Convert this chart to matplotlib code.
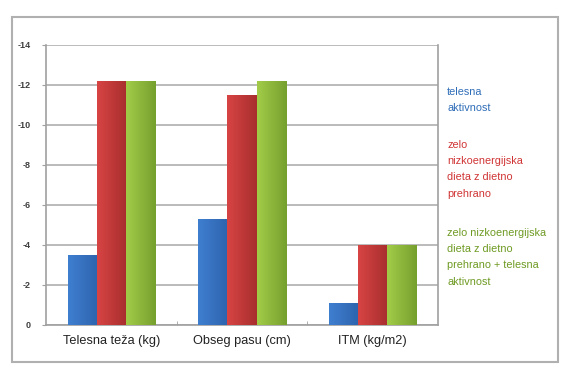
import matplotlib
matplotlib.use("Agg")
import matplotlib.pyplot as plt
import numpy as np
from matplotlib.colors import LinearSegmentedColormap
from matplotlib.patches import Rectangle

categories = ["Telesna teža (kg)", "Obseg pasu (cm)", "ITM (kg/m2)"]
series_names = ["telesna\naktivnost",
                "zelo\nnizkoenergijska\ndieta z dietno\nprehrano",
                "zelo nizkoenergijska\ndieta z dietno\nprehrano + telesna\naktivnost"]
telesna = [-3.5, -5.3, -1.1]
zelo = [-12.2, -11.5, -4.0]
zelo_ta = [-12.2, -12.2, -4.0]
yticks = [0, -2, -4, -6, -8, -10, -12, -14]

series = [telesna, zelo, zelo_ta]
grads = [("#3f7fd0", "#2e64ae"), ("#d84444", "#a82e2e"), ("#a2cc48", "#76a02e")]
text_colors = ["#2f6db8", "#d03434", "#6e9a22"]

narrow = ["Liberation Sans Narrow", "Liberation Sans", "DejaVu Sans"]

fig = plt.figure(figsize=(5.7, 3.8), dpi=100)
fig.patch.set_facecolor("white")
ax = fig.add_axes([46/570, 1-325/380, (438-46)/570, (325-45)/380])

x = np.arange(len(categories))
w = 0.222
for i, (vals, (c0, c1)) in enumerate(zip(series, grads)):
    bars = ax.bar(x + (i-1)*w, vals, width=w, color=c1, zorder=3, linewidth=0)
    cmap = LinearSegmentedColormap.from_list("g%d" % i, [c0, c1])
    for b in bars:
        x0 = b.get_x(); x1 = x0 + b.get_width()
        y0 = b.get_y(); y1 = y0 + b.get_height()
        ax.imshow(np.linspace(0, 1, 64).reshape(1, -1), cmap=cmap, aspect="auto",
                  extent=(x0, x1, y0, y1), zorder=4, interpolation="bilinear")

ax.set_xlim(-0.5, 2.5)
ax.set_ylim(0, -14)
ax.set_yticks(yticks)
ax.set_yticklabels([str(t) for t in yticks], fontsize=6.5, color="#404040",
                   fontweight="bold", family=narrow)
ax.set_xticks(x)
ax.set_xticklabels(categories, family=narrow, fontsize=9.2, color="#222222")
ax.set_xticks([0.5, 1.5], minor=True)
ax.tick_params(axis="x", which="major", length=0, pad=7)
ax.tick_params(axis="x", which="minor", length=3, color="#a0a0a0", direction="in")
ax.tick_params(axis="y", length=3, color="#a0a0a0", pad=8)
ax.yaxis.grid(True, color="#a8a8a8", linewidth=1.1, zorder=0)
ax.set_axisbelow(True)
for s in ["left", "bottom", "right"]:
    ax.spines[s].set_color("#a0a0a0")
    ax.spines[s].set_linewidth(1.2)
ax.spines["top"].set_visible(False)

ys = [92, 145, 233]
for name, col, y in zip(series_names, text_colors, ys):
    fig.text(447/570, 1-(y-5)/380, name, color=col, fontsize=7.8, family=narrow,
             va="top", ha="left", linespacing=1.78)

fig.patches.append(Rectangle((12/570, 1-362/380), (558-12)/570, (362-17)/380,
                             transform=fig.transFigure, fill=False,
                             edgecolor="#b0b0b0", linewidth=1.5))
fig.savefig("out.png", dpi=100)
